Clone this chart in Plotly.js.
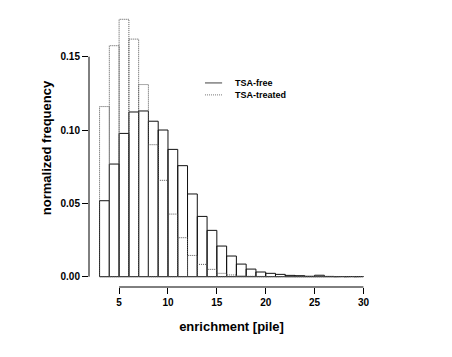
<!DOCTYPE html>
<html>
<head>
<meta charset="utf-8">
<script src="https://cdn.plot.ly/plotly-3.0.1.min.js"></script>
<style>
  body { margin: 0; background: #fff; }
  #plot { width: 452px; height: 357px; }
</style>
</head>
<body>
<div id="plot"></div>
<script>
// histogram bins, width 1, starting at 3
const binStart = 3;
const binWidth = 1;
const tsaFree = [0.0518, 0.0768, 0.0977, 0.1123, 0.1130, 0.1060, 0.1000, 0.0868, 0.0757,
  0.0564, 0.0411, 0.0316, 0.0209, 0.0141, 0.0086, 0.0052, 0.0032, 0.0023, 0.0016,
  0.0009, 0.0007, 0.0003, 0.0010, 0.0002, 0.0001, 0.0001, 0.0001];
const tsaTreated = [0.116, 0.1575, 0.1755, 0.162, 0.131, 0.090, 0.0657, 0.0427, 0.0266,
  0.0145, 0.0084, 0.0050, 0.0023, 0.0012, 0.0006, 0.0003, 0.0002, 0.0001, 0.0001,
  0, 0, 0, 0, 0, 0, 0, 0];
const seriesNames = ['TSA-free', 'TSA-treated'];
const xTicks = [5, 10, 15, 20, 25, 30];
const yTicks = [0, 0.05, 0.10, 0.15];
const yTickText = ['0.00', '0.05', '0.10', '0.15'];

// outline of each bar as a rectangle path
function outline(vals) {
  const x = [], y = [];
  vals.forEach((h, i) => {
    const x0 = binStart + i * binWidth, x1 = x0 + binWidth;
    x.push(x0, x0, x1, x1, x0, null);
    y.push(0, h, h, 0, 0, null);
  });
  return { x, y };
}

const free = outline(tsaFree);
const treated = outline(tsaTreated);
const freeLine = { color: '#111', width: 1 };
const treatedLine = { color: '#555', width: 1, dash: '1px,1px' };

const data = [
  {
    x: free.x, y: free.y, type: 'scatter', mode: 'lines', name: seriesNames[0],
    line: freeLine, connectgaps: false, hoverinfo: 'skip'
  },
  {
    x: treated.x, y: treated.y, type: 'scatter', mode: 'lines', name: seriesNames[1],
    line: treatedLine, connectgaps: false, hoverinfo: 'skip'
  }
];

const font = { family: 'Liberation Sans, Arial, sans-serif', color: '#000', weight: 'bold' };
const lastBin = binStart + tsaFree.length * binWidth;
const span = lastBin - binStart;
const yMax = Math.max(...tsaFree, ...tsaTreated);

// hand-made legend, R style: short line + label
const legX0 = 0.407, legX1 = 0.467, legTextX = 0.505;
const legY = [0.734, 0.691];
const legendShapes = [freeLine, treatedLine].map((ln, i) => ({
  type: 'line', xref: 'paper', yref: 'paper', x0: legX0, x1: legX1, y0: legY[i], y1: legY[i],
  line: Object.assign({}, ln, { width: 0.8 })
}));
const legendText = seriesNames.map((name, i) => ({
  xref: 'paper', yref: 'paper', x: legTextX, y: legY[i], xanchor: 'left', yanchor: 'middle',
  text: name, showarrow: false, font: Object.assign({}, font, { size: 9 })
}));

const layout = {
  width: 452, height: 357,
  margin: { l: 89, r: 78, t: 9, b: 70 },
  paper_bgcolor: '#fff', plot_bgcolor: '#fff',
  showlegend: false,
  xaxis: {
    range: [binStart - 0.04 * span, lastBin + 0.04 * span],
    tickvals: xTicks, ticks: 'outside', ticklen: 6, tickcolor: '#000',
    showgrid: false, zeroline: false, showline: false,
    tickfont: Object.assign({}, font, { size: 10 }),
    title: { text: 'enrichment [pile]', font: Object.assign({}, font, { size: 13 }), standoff: 14 }
  },
  yaxis: {
    range: [-0.04 * yMax, yMax * 1.04],
    tickvals: yTicks, ticktext: yTickText, ticks: 'outside', ticklen: 6, tickcolor: '#000',
    showgrid: false, zeroline: false, showline: false,
    tickfont: Object.assign({}, font, { size: 10 }),
    title: { text: 'normalized frequency', font: Object.assign({}, font, { size: 13 }), standoff: 5 }
  },
  shapes: [
    { type: 'line', xref: 'x', yref: 'paper', x0: xTicks[0], x1: xTicks[xTicks.length - 1],
      y0: 0, y1: 0, line: { color: '#000', width: 1 } },
    { type: 'line', xref: 'paper', yref: 'y', x0: 0, x1: 0,
      y0: yTicks[0], y1: yTicks[yTicks.length - 1], line: { color: '#000', width: 1 } }
  ].concat(legendShapes),
  annotations: legendText
};

Plotly.newPlot('plot', data, layout, { staticPlot: true });
</script>
</body>
</html>
